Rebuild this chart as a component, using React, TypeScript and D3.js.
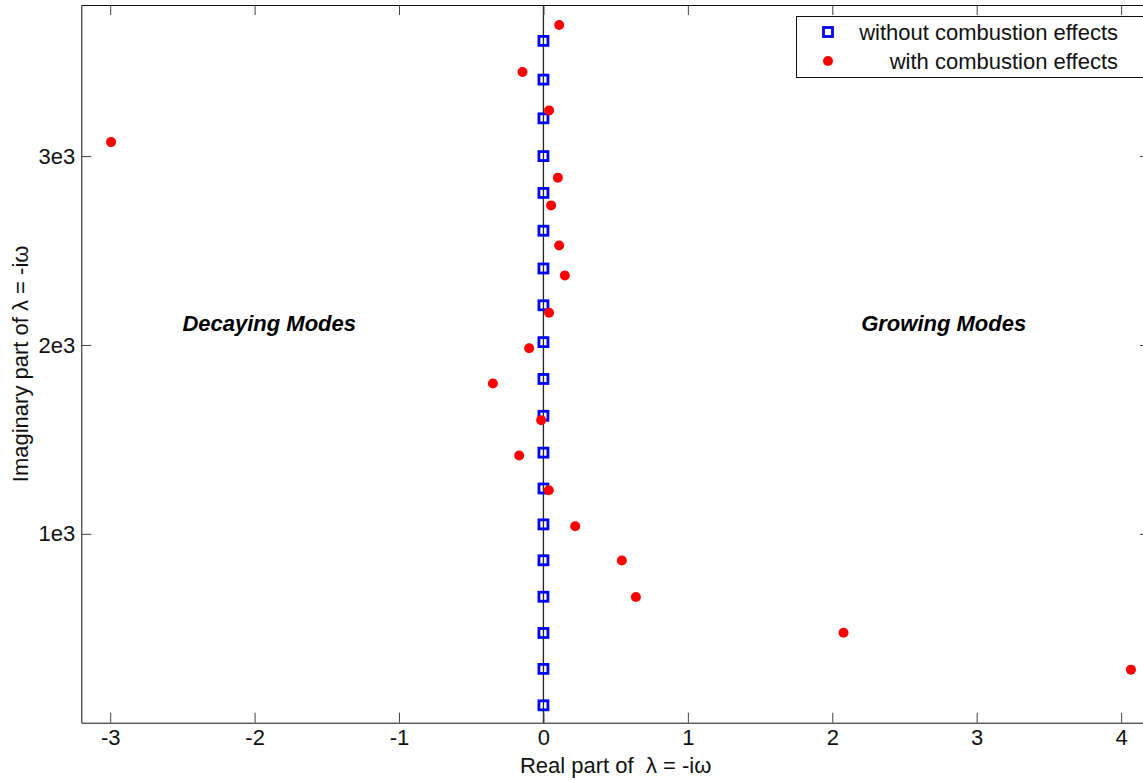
import * as d3 from 'd3'
import { useEffect, useRef } from 'react'

// eigenvalues, real part / imaginary part
const noCombImag = [92, 285, 475, 667, 860, 1050, 1240, 1430, 1625, 1820, 2015, 2210, 2405, 2605, 2805, 3000, 3200, 3405, 3610]
const noCombReal = noCombImag.map(() => 0)

const combReal = [0.109, -0.145, 0.039, -2.994, 0.10, 0.053, 0.109, 0.148, 0.039, -0.099, -0.35, -0.016, -0.168, 0.037, 0.22, 0.543, 0.64, 2.078, 4.068]
const combImag = [3694, 3445, 3242, 3074, 2886, 2739, 2527, 2368, 2171, 1983, 1796, 1602, 1415, 1231, 1040, 859, 666, 476, 281]

const xTicks = [-3, -2, -1, 0, 1, 2, 3, 4]
const yTicks = [1000, 2000, 3000]
const legendLabels = ['without combustion effects', 'with combustion effects']

const App = () => {
    const svgRef = useRef(null)

    useEffect(() => {
        const w = 1143
        const h = 780
        const font = '"Liberation Sans", Arial, sans-serif'

        const svg = d3.select(svgRef.current)
        svg.selectAll('*').remove()

        const x = d3.scaleLinear().domain([-3.2, 4.2]).range([81.3, 1150])
        const y = d3.scaleLinear().domain([0, 3800]).range([722.7, 5])

        // white plot area
        svg.append('rect').attr('width', w).attr('height', h).attr('fill', '#fff')

        // zero line
        svg.append('line')
            .attr('x1', x(0)).attr('x2', x(0)).attr('y1', y(3800)).attr('y2', y(0))
            .attr('stroke', '#222').attr('stroke-width', 1.3)

        // axes
        const bottom = svg.append('g').attr('transform', `translate(0,${y(0)})`)
            .call(d3.axisBottom(x).tickValues(xTicks).tickSize(-10).tickSizeOuter(0).tickPadding(7).tickFormat(d => String(d)))
        const top = svg.append('g').attr('transform', `translate(0,${y(3800)})`)
            .call(d3.axisTop(x).tickValues(xTicks).tickSize(-10).tickSizeOuter(0).tickFormat(() => ''))
        const left = svg.append('g').attr('transform', `translate(${x(-3.2)},0)`)
            .call(d3.axisLeft(y).tickValues(yTicks).tickSize(-10).tickSizeOuter(0).tickPadding(6).tickFormat(d => `${+d / 1000}e3`))
        const right = svg.append('g').attr('transform', `translate(${x(4.2)},0)`)
            .call(d3.axisRight(y).tickValues(yTicks).tickSize(-10).tickSizeOuter(0).tickFormat(() => ''))

        ;[bottom, top, left, right].forEach(g => {
            g.select('.domain').attr('stroke', '#111')
            g.selectAll('.tick line').attr('stroke', '#444')
            g.selectAll('text').attr('font-family', font).attr('font-size', 22).attr('fill', '#111')
        })

        // axis labels
        svg.append('text').attr('x', (x(-3.2) + x(4.2)) / 2).attr('y', 773)
            .attr('text-anchor', 'middle').attr('font-family', font).attr('font-size', 22).attr('fill', '#111')
            .text('Real part of \u00a0λ = -iω')
        svg.append('text').attr('transform', `translate(28,${(y(0) + y(3800)) / 2}) rotate(-90)`)
            .attr('text-anchor', 'middle').attr('font-family', font).attr('font-size', 22).attr('fill', '#111')
            .text('Imaginary part of λ = -iω')

        // region notes
        svg.append('text').attr('x', x(-2.5)).attr('y', y(2075))
            .attr('font-family', font).attr('font-size', 22).attr('font-weight', 'bold').attr('font-style', 'italic')
            .text('Decaying Modes')
        svg.append('text').attr('x', x(2.2)).attr('y', y(2075))
            .attr('font-family', font).attr('font-size', 22).attr('font-weight', 'bold').attr('font-style', 'italic')
            .text('Growing Modes')

        // without combustion: blue squares
        svg.selectAll('.sq').data(noCombImag).join('rect').attr('class', 'sq')
            .attr('x', (d, i) => x(noCombReal[i]) - 4.5).attr('y', d => y(d) - 4.5)
            .attr('width', 9).attr('height', 9)
            .attr('fill', 'none').attr('stroke', '#0000ff').attr('stroke-width', 2.8)

        // with combustion: red dots
        svg.selectAll('.dot').data(combImag).join('circle').attr('class', 'dot')
            .attr('cx', (d, i) => x(combReal[i])).attr('cy', d => y(d))
            .attr('r', 5).attr('fill', '#ff0000')

        // legend
        const lg = svg.append('g')
        lg.append('rect').attr('x', 796.5).attr('y', 16.5).attr('width', 360).attr('height', 61)
            .attr('fill', '#fff').attr('stroke', '#111')
        lg.append('rect').attr('x', 828 - 4.5).attr('y', 32 - 4.5).attr('width', 9).attr('height', 9)
            .attr('fill', 'none').attr('stroke', '#0000ff').attr('stroke-width', 2.8)
        lg.append('circle').attr('cx', 828).attr('cy', 61).attr('r', 5).attr('fill', '#ff0000')
        lg.selectAll('.lt').data(legendLabels).join('text').attr('class', 'lt')
            .attr('x', 1118).attr('y', (d, i) => 40 + i * 28.5)
            .attr('text-anchor', 'end').attr('font-family', font).attr('font-size', 22).attr('fill', '#111')
            .text(d => d)
    }, [])

    return (
        <div>
            <svg ref={svgRef} width={1143} height={780} style={{ position: 'absolute', left: 0, top: 0 }}></svg>
        </div>
    )
}

export default App
